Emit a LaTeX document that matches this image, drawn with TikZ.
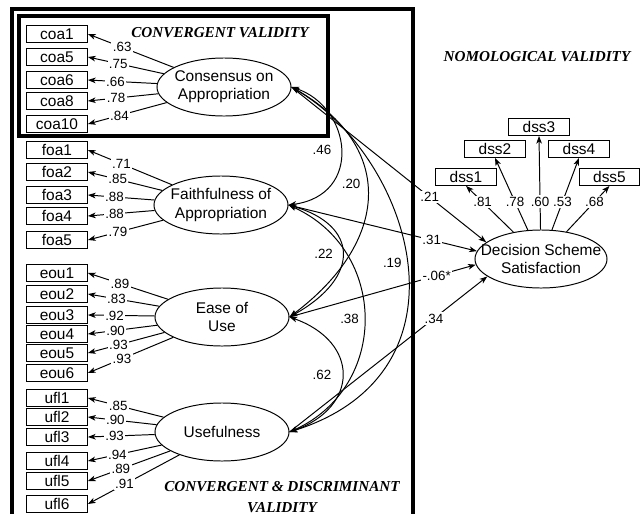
\documentclass[tikz,border=0pt]{standalone}
\usepackage{fontspec}
\setmainfont{Liberation Sans}
\newfontfamily\titlefont{Liberation Serif}
\usetikzlibrary{arrows.meta,shapes.geometric}

\begin{document}
\begin{tikzpicture}[x=0.025cm, y=-0.025cm,
    >={Stealth[length=5.5pt,width=4pt,inset=1.5pt]},
    indicator/.style={draw, line width=0.7pt, minimum width=1.52cm, minimum height=0.42cm,
        inner sep=0pt, font=\fontsize{11}{13}\selectfont},
    latent/.style={draw, ellipse, line width=0.7pt, minimum width=3.35cm, minimum height=1.45cm,
        inner xsep=-12pt, inner ysep=-4pt, align=center, font=\fontsize{11}{13}\selectfont},
    coef/.style={fill=white, inner sep=1pt, font=\fontsize{9.5}{11}\selectfont},
    covlabel/.style={font=\fontsize{9.5}{11}\selectfont},
    header/.style={align=center, font=\titlefont\bfseries\itshape\fontsize{10.8}{15}\selectfont},
    load/.style={->, line width=0.7pt},
    cov/.style={<->, line width=0.7pt}]

\useasboundingbox (0,0) rectangle (641,514);

% Frames
\draw[line width=2.2pt] (12,525) |- (413,9) -- (413,525);
\draw[line width=2.2pt] (19,16) rectangle (328,136);

% Headings
\node[header] (hconv) at (220,33) {CONVERGENT VALIDITY};
\node[header] (hnomo) at (537,57) {NOMOLOGICAL VALIDITY};
\node[header] (hdisc) at (282,497) {CONVERGENT \& DISCRIMINANT\\VALIDITY};

% Constructs
\node[latent] (coa) at (224,87) {Consensus on\\Appropriation};
\node[latent] (foa) at (221,205) {Faithfulness of\\Appropriation};
\node[latent] (eou) at (222,317) {Ease of\\Use};
\node[latent] (ufl) at (222,432) {Usefulness};
\node[latent, minimum width=3.3cm] (dss) at (541,259) {Decision Scheme\\Satisfaction};

% Indicators and loadings
\foreach \ind/\y/\val in {coa1/34/.63, coa5/57/.75, coa6/80/.66, coa8/101/.78, coa10/124/.84}
{
    \node[indicator] (\ind) at (57,\y) {\ind};
    \draw[load] (coa) -- node[coef, pos=0.6] {\val} (\ind.east);
}
\foreach \ind/\y/\val in {foa1/150/.71, foa2/172/.85, foa3/195/.88, foa4/216/.88, foa5/240/.79}
{
    \node[indicator] (\ind) at (57,\y) {\ind};
    \draw[load] (foa) -- node[coef, pos=0.6] {\val} (\ind.east);
}
\foreach \ind/\y/\val in {eou1/273/.89, eou2/294/.83, eou3/315/.92, eou4/334/.90, eou5/353/.93, eou6/373/.93}
{
    \node[indicator] (\ind) at (57,\y) {\ind};
    \draw[load] (eou) -- node[coef, pos=0.6] {\val} (\ind.east);
}
\foreach \ind/\y/\val in {ufl1/398/.85, ufl2/417/.90, ufl3/437/.93, ufl4/461/.94, ufl5/481/.89, ufl6/504/.91}
{
    \node[indicator] (\ind) at (57,\y) {\ind};
    \draw[load] (ufl) -- node[coef, pos=0.6] {\val} (\ind.east);
}
\foreach \ind/\x/\y/\val/\p in {dss1/466/177/.81/0.65, dss2/495/149/.78/0.39, dss3/539/127/.60/0.3,
    dss4/579/149/.53/0.39, dss5/609.5/177/.68/0.65}
{
    \node[indicator] (\ind) at (\x,\y) {\ind};
    \draw[load] (dss) -- node[coef, pos=\p] {\val} (\ind.south);
}

% Paths to satisfaction
\draw[load] (coa.east) -- node[coef, pos=0.71] {.21} (dss.163);
\draw[load] (foa.east) -- node[coef, pos=0.76] {.31} (dss.173);
\draw[load] (eou.east) -- node[coef, pos=0.79] {-.06*} (dss.185);
\draw[load] (ufl.east) -- node[coef, pos=0.73] {.34} (dss.198);

% Correlations
\draw[cov] (coa.east) .. controls +(60,20) and +(75,-10) .. node[covlabel, midway, left=3pt] {.46} (foa.east);
\draw[cov] (coa.east) .. controls +(105,60) and +(100,-75) .. node[covlabel, pos=0.45, left=1pt] {.20} (eou.east);
\draw[cov] (coa.east) .. controls +(120,70) and +(190,-60) .. node[covlabel, midway, left=0pt] {.19} (ufl.east);
\draw[cov] (foa.east) .. controls +(70,20) and +(72,-40) .. node[covlabel, midway, left=3pt] {.22} (eou.east);
\draw[cov] (foa.east) .. controls +(100,45) and +(100,-45) .. node[covlabel, midway, left=0pt] {.38} (ufl.east);
\draw[cov] (eou.east) .. controls +(70,25) and +(70,-25) .. node[covlabel, midway, left=4pt] {.62} (ufl.east);

\end{tikzpicture}
\end{document}
